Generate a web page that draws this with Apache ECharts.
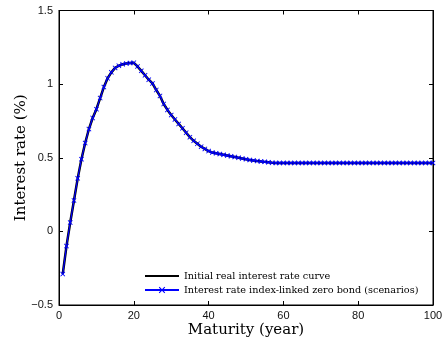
<!DOCTYPE html>
<html><head><meta charset="utf-8">
<script src="https://cdn.jsdelivr.net/npm/echarts@6/dist/echarts.min.js"></script>
<style>html,body{margin:0;padding:0;background:#fff}#c{width:448px;height:342px}</style>
</head><body><div id="c"></div>
<script>
var maturities = [];
for (var i = 1; i <= 100; i++) maturities.push(i);
var rates = [-0.29,-0.10,0.06,0.21,0.36,0.49,0.60,0.695,0.77,0.83,
  0.905,0.98,1.04,1.08,1.11,1.125,1.135,1.14,1.143,1.145,
  1.12,1.09,1.06,1.03,1.005,0.96,0.92,0.865,0.825,0.79,
  0.76,0.73,0.70,0.67,0.64,0.615,0.595,0.575,0.56,0.545,
  0.535,0.53,0.525,0.52,0.515,0.51,0.505,0.50,0.495,0.49,
  0.485,0.482,0.478,0.475,0.472,0.469,0.466,0.465,0.465,0.465,
  0.465,0.465,0.465,0.465,0.465,0.465,0.465,0.465,0.465,0.465,
  0.465,0.465,0.465,0.465,0.465,0.465,0.465,0.465,0.465,0.465,
  0.465,0.465,0.465,0.465,0.465,0.465,0.465,0.465,0.465,0.465,
  0.465,0.465,0.465,0.465,0.465,0.465,0.465,0.465,0.465,0.465];
var scenarios = rates.slice();
var xTicks = [0, 20, 40, 60, 80, 100];
var yTicks = [-0.5, 0, 0.5, 1, 1.5];
var seriesNames = ['Initial real interest rate curve', 'Interest rate index-linked zero bond (scenarios)'];

function pairs(vals){ return maturities.map(function(m,i){return [m, vals[i]];}); }
var xMark = 'path://M0,1.2L1.2,0L5,3.8L8.8,0L10,1.2L6.2,5L10,8.8L8.8,10L5,6.2L1.2,10L0,8.8L3.8,5Z';
var sans = 'Liberation Sans, Arial, sans-serif';
var serif = 'DejaVu Serif, Liberation Serif, serif';
var chart = echarts.init(document.getElementById('c'));
var tickStyle = {show:true, inside:true, length:4, lineStyle:{color:'#000', width:1}};
var lineAx = {show:true, onZero:false, lineStyle:{color:'#000', width:1}};
chart.setOption({
  animation:false,
  grid:{left:59, right:15, top:10.5, bottom:37, outerBoundsMode:'none', containLabel:false,
        show:true, borderColor:'#000', borderWidth:1},
  legend:{
    left:144, top:271, orient:'vertical', itemGap:4, itemWidth:34, itemHeight:8, padding:0,
    textStyle:{fontFamily:serif, fontSize:9.7, color:'#000'},
    data:[{name:seriesNames[0], itemStyle:{color:'rgba(0,0,0,0)', borderWidth:0}},
          {name:seriesNames[1]}]
  },
  xAxis:[{
    type:'value', min:xTicks[0], max:xTicks[xTicks.length-1], interval:20, position:'bottom',
    axisLine:lineAx, axisTick:tickStyle, splitLine:{show:false},
    axisLabel:{fontFamily:sans, fontSize:11, color:'#111', margin:5},
    name:'Maturity (year)', nameLocation:'middle', nameGap:18, nameMoveOverlap:false,
    nameTextStyle:{fontFamily:serif, fontSize:15, color:'#000'}
  },{
    type:'value', min:0, max:100, interval:20, position:'top',
    axisLine:lineAx, axisTick:tickStyle, axisLabel:{show:false}, splitLine:{show:false}
  }],
  yAxis:[{
    type:'value', min:yTicks[0], max:yTicks[yTicks.length-1], interval:0.5, position:'left',
    axisLine:lineAx, axisTick:tickStyle, splitLine:{show:false},
    axisLabel:{fontFamily:sans, fontSize:11, color:'#111', margin:6,
      formatter:function(v){return String(v).replace('-', '\u2212');}},
    name:'Interest rate (%)', nameLocation:'middle', nameGap:30, nameMoveOverlap:false,
    nameTextStyle:{fontFamily:serif, fontSize:15, color:'#000'}
  },{
    type:'value', min:-0.5, max:1.5, interval:0.5, position:'right',
    axisLine:lineAx, axisTick:tickStyle, axisLabel:{show:false}, splitLine:{show:false}
  }],
  series:[{
    name:seriesNames[0], type:'line', data:pairs(rates), symbol:'none',
    lineStyle:{color:'#000', width:2.5}, itemStyle:{color:'#000'}, z:2
  },{
    name:seriesNames[1], type:'line', data:pairs(scenarios), symbol:xMark, symbolSize:5,
    showAllSymbol:true,
    lineStyle:{color:'#0000ff', width:1.2}, itemStyle:{color:'#0000ff'}, z:3
  }]
});
</script></body></html>
